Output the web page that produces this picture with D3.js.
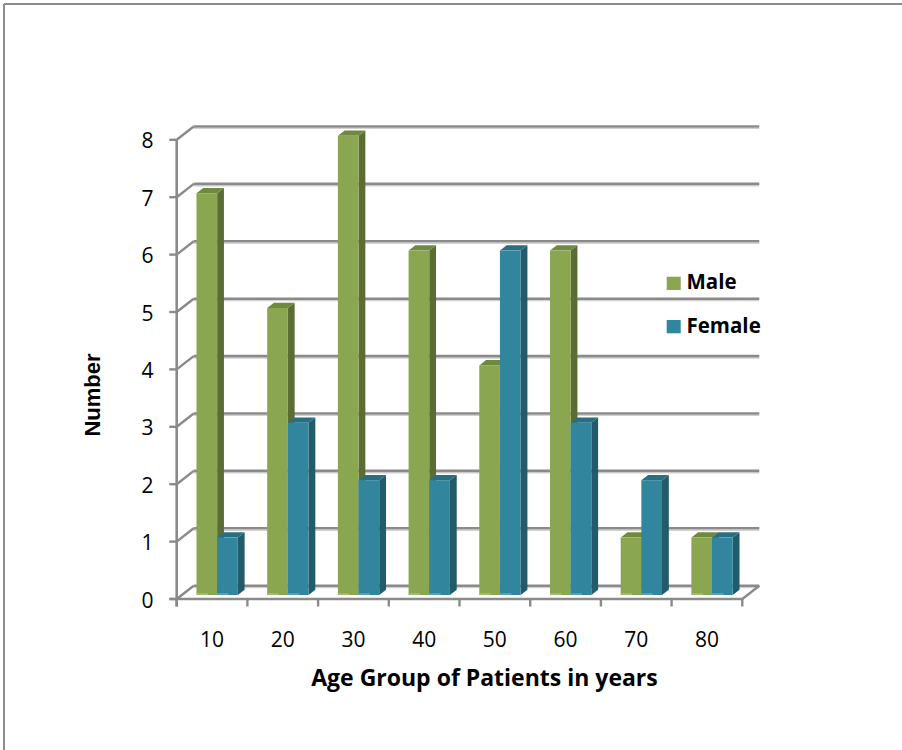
<!DOCTYPE html>
<html>
<head>
<meta charset="utf-8">
<script src="https://cdn.jsdelivr.net/npm/d3@7"></script>
<style>
  html, body { margin: 0; padding: 0; background: #ffffff; }
  svg { display: block; }
</style>
</head>
<body>
<svg id="chart" width="902" height="750"></svg>
<script>
// Patients by age group and sex
const categories = ["10", "20", "30", "40", "50", "60", "70", "80"];
const seriesNames = ["Male", "Female"];
const maleValues = [7, 5, 8, 6, 4, 6, 1, 1];
const femaleValues = [1, 3, 2, 2, 6, 3, 2, 1];
const yTickValues = [0, 1, 2, 3, 4, 5, 6, 7, 8];

const xTitle = "Age Group of Patients in years";
const yTitle = "Number";

const palette = {
  Male:   { front: "#8ba650", side: "#5b6d34", top: "#6f8a3e", foot: "#a9bf7e" },
  Female: { front: "#31869d", side: "#225b6a", top: "#296f82", foot: "#6aa8b9" }
};

const rows = categories.map((c, i) => ({
  cat: c,
  values: [
    { key: "Male", value: maleValues[i] },
    { key: "Female", value: femaleValues[i] }
  ]
}));

const svg = d3.select("#chart");

// outer frame (top and left edges)
svg.append("line").attr("x1", 4).attr("y1", 4).attr("x2", 902).attr("y2", 4)
  .attr("stroke", "#8c8c8c").attr("stroke-width", 2);
svg.append("line").attr("x1", 4).attr("y1", 4).attr("x2", 4).attr("y2", 750)
  .attr("stroke", "#8c8c8c").attr("stroke-width", 2);

// 3D box: front plane + depth offset
const DX = 17, DY = 13.3;
const x0 = d3.scaleBand().domain(categories).range([176.7, 742.3]).padding(0);
const xs = d3.scaleBand().domain(seriesNames).range([0, x0.bandwidth()])
  .paddingInner(0).paddingOuter(0.71);
const y = d3.scaleLinear().domain([0, 8]).range([599, 139.8]);

const proj = (px, v, z) => [px + z * DX, y(v) - z * DY];
const [xL, xR] = x0.range();

const grid = svg.append("g");
const gridColor = "#8a8a8a";
const shadowColor = "#d2d2d2";

function seg(g, a, b, color, w) {
  g.append("line").attr("x1", a[0]).attr("y1", a[1]).attr("x2", b[0]).attr("y2", b[1])
    .attr("stroke", color).attr("stroke-width", w);
}

// back wall gridlines and left wall diagonals
yTickValues.forEach(t => {
  const a = proj(xL, t, 1), b = proj(xR, t, 1);
  seg(grid, [a[0], a[1] + 2], [b[0], b[1] + 2], shadowColor, 1.2);
  seg(grid, a, b, gridColor, 2.6);
  seg(grid, proj(xL, t, 0), proj(xL, t, 1), gridColor, 2.4);
  // y ticks
  seg(grid, [169.3, y(t)], [xL, y(t)], gridColor, 2.4);
});

// front y axis
seg(grid, [xL, y(8)], [xL, y(0) + 7.5], gridColor, 2.6);
// floor front edge and right diagonal
seg(grid, [169.3, y(0)], [xR, y(0)], gridColor, 2.6);
seg(grid, proj(xR, 0, 0), proj(xR, 0, 1), gridColor, 2.4);
// x ticks at band boundaries
const bounds = categories.map(c => x0(c)).concat([xR]);
bounds.forEach(bx => seg(grid, [bx, y(0)], [bx, y(0) + 7.5], gridColor, 2.4));

// bars
const zF = 0.3, zB = 0.7;
const bars = svg.append("g");
rows.forEach(r => {
  r.values.forEach(d => {
    const c = palette[d.key];
    const px = x0(r.cat) + xs(d.key);
    const w = xs.bandwidth();
    const [fx, fyTop] = proj(px, d.value, zF);
    const fyBot = proj(px, 0, zF)[1];
    const ddx = (zB - zF) * DX, ddy = (zB - zF) * DY;
    const g = bars.append("g");
    // right side face
    g.append("path")
      .attr("d", `M${fx + w},${fyTop} L${fx + w + ddx},${fyTop - ddy} L${fx + w + ddx},${fyBot - ddy} L${fx + w},${fyBot} Z`)
      .attr("fill", c.side);
    // top face
    g.append("path")
      .attr("d", `M${fx},${fyTop} L${fx + w},${fyTop} L${fx + w + ddx},${fyTop - ddy} L${fx + ddx},${fyTop - ddy} Z`)
      .attr("fill", c.top);
    // front face
    g.append("rect")
      .attr("x", fx).attr("y", fyTop).attr("width", w).attr("height", fyBot - fyTop)
      .attr("fill", c.front);
    // faint floor reflection along the foot
    g.append("rect")
      .attr("x", fx).attr("y", fyBot - 1.8).attr("width", w * 0.55).attr("height", 1.8)
      .attr("fill", c.foot).attr("opacity", 0.8);
  });
});

// tick labels
const labelFont = "'Open Sans', Lato, sans-serif";
svg.append("g").selectAll("text").data(yTickValues).join("text")
  .attr("x", 153.5).attr("y", t => y(t) + 8.6)
  .attr("text-anchor", "end")
  .attr("font-family", labelFont).attr("font-size", 21).attr("fill", "#000")
  .text(t => t);

svg.append("g").selectAll("text").data(categories).join("text")
  .attr("x", c => x0(c) + x0.bandwidth() / 2).attr("y", 646.7)
  .attr("text-anchor", "middle")
  .attr("font-family", labelFont).attr("font-size", 21).attr("fill", "#000")
  .text(c => c);

// axis titles
svg.append("text")
  .attr("x", 484.5).attr("y", 686)
  .attr("text-anchor", "middle")
  .attr("font-family", labelFont).attr("font-weight", "bold").attr("font-size", 23)
  .attr("fill", "#000")
  .text(xTitle);

svg.append("text")
  .attr("transform", "translate(99.5,395) rotate(-90)")
  .attr("text-anchor", "middle")
  .attr("font-family", "'Liberation Sans', Arial, sans-serif").attr("font-weight", "bold")
  .attr("font-size", 22).attr("fill", "#000")
  .text(yTitle);

// legend
const legend = svg.append("g");
const legendY = [276.7, 320];
seriesNames.forEach((s, i) => {
  legend.append("rect")
    .attr("x", 666.7).attr("y", legendY[i]).attr("width", 14).attr("height", 13.3)
    .attr("fill", palette[s].front);
  legend.append("text")
    .attr("x", 686.5).attr("y", legendY[i] + 12.5)
    .attr("font-family", labelFont).attr("font-weight", "bold").attr("font-size", 20.5)
    .attr("fill", "#000")
    .text(s);
});
</script>
</body>
</html>
